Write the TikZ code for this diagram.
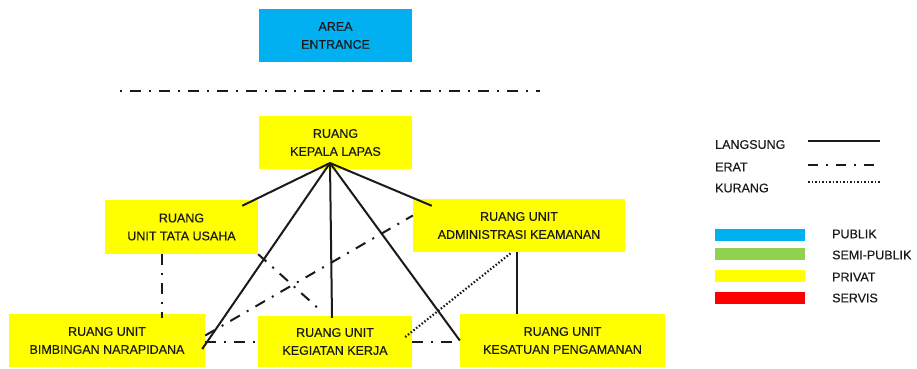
\documentclass[tikz,border=0pt]{standalone}
\usepackage{fontspec}
\setmainfont{Liberation Sans}[FakeBold=0.4]
\usetikzlibrary{calc}
\definecolor{publik}{HTML}{00B0F0}
\definecolor{semipublik}{HTML}{92D050}
\definecolor{privat}{HTML}{FFFF00}
\definecolor{servis}{HTML}{FF0000}
\definecolor{ink}{HTML}{1A1A1A}
\begin{document}
\begin{tikzpicture}[x=1pt,y=-1pt,
  room/.style={fill=#1,draw=none,inner sep=0pt,align=center,text=ink,
    font=\fontsize{12.5}{18}\selectfont},
  lbl/.style={anchor=west,inner sep=0pt,text=ink,font=\fontsize{12.5}{18}\selectfont},
  langsung/.style={draw=ink,line width=2pt},
  erat/.style={draw=ink,line width=2pt,dash pattern=on 11pt off 8pt on 2pt off 8pt},
  kurang/.style={draw=ink,line width=2.2pt,dash pattern=on 1.5pt off 2pt},
  bar/.style={fill=#1,draw=none,minimum width=90pt,minimum height=12pt,inner sep=0pt}]
\useasboundingbox (0,0) rectangle (917,368);

% zones
\node[room=publik,minimum width=153pt,minimum height=53pt] (entrance) at (335.5,35.5) {AREA\\ENTRANCE};
\node[room=privat,minimum width=153pt,minimum height=53pt] (kepala) at (335.5,142.5) {RUANG\\KEPALA LAPAS};
\node[room=privat,minimum width=153pt,minimum height=54pt] (tata) at (181.5,227) {RUANG\\UNIT TATA USAHA};
\node[room=privat,minimum width=212pt,minimum height=53pt] (admin) at (519,225.5) {RUANG UNIT\\ADMINISTRASI KEAMANAN};
\node[room=privat,minimum width=196pt,minimum height=53pt] (bimb) at (107,340.5) {RUANG UNIT\\BIMBINGAN NARAPIDANA};
\node[room=privat,minimum width=154pt,minimum height=51pt] (kegiatan) at (335,341.5) {RUANG UNIT\\KEGIATAN KERJA};
\node[room=privat,minimum width=205pt,minimum height=53pt] (kesatuan) at (562.5,340.5) {RUANG UNIT\\KESATUAN PENGAMANAN};

% separator between public entrance and private zone
\coordinate (sepL) at (120,91);
\coordinate (sepR) at (540,91);
\draw[erat,dash phase=19pt] (sepL) -- (sepR);

% relations
\coordinate (hub) at (330,163);
\draw[langsung] (hub) -- ($(tata.north east)+(-16,6)$);
\draw[langsung] (hub) -- ($(admin.north west)+(19,7)$);
\draw[langsung] (hub) -- ($(bimb.east)+(-3,8.5)$);
\draw[langsung] (hub) -- ($(kegiatan.north)+(-3,2)$);
\draw[langsung] (hub) -- (kesatuan.west);
\draw[langsung] ($(admin.south)+(-2,0)$) -- ($(kesatuan.north)+(-45.5,0)$);

\draw[erat] ($(tata.south)+(-19.5,0)$) -- ($(bimb.north)+(55,4)$);
\draw[erat] (tata.south east) -- ($(kegiatan.north)+(-13,-4)$);
\draw[erat] ($(bimb.east)+(0,-5)$) -- ($(admin.west)+(0,-10)$);
\draw[erat] ($(bimb.east)+(0,1.5)$) -- ($(kegiatan.west)+(2,0.5)$);
\draw[erat] ($(kegiatan.east)+(0,0.5)$) -- ($(kesatuan.west)+(0,1.5)$);

\draw[kurang] ($(kegiatan.east)+(-7,-4.5)$) -- ($(admin.south)+(-7,0)$);

% legend: relation types
\node[lbl] (lLangsung) at (715,144.5) {LANGSUNG};
\node[lbl] (lErat) at (715,167) {ERAT};
\node[lbl] (lKurang) at (715,188) {KURANG};
\coordinate (kLa) at (808,141); \coordinate (kLb) at (880,141);
\coordinate (kEa) at (808,165); \coordinate (kEb) at (880,165);
\coordinate (kKa) at (808,182); \coordinate (kKb) at (880,182);
\draw[langsung] (kLa) -- (kLb);
\draw[erat,dash pattern=on 10pt off 8pt on 2pt off 8pt] (kEa) -- (kEb);
\draw[kurang] (kKa) -- (kKb);

% legend: zone colours
\node[bar=publik] (bPublik) at (760,235) {};
\node[bar=semipublik] (bSemi) at (760,254) {};
\node[bar=privat] (bPrivat) at (760,276) {};
\node[bar=servis] (bServis) at (760,297.5) {};
\node[lbl] (tPublik) at (832,234) {PUBLIK};
\node[lbl] (tSemi) at (832,255) {SEMI-PUBLIK};
\node[lbl] (tPrivat) at (832,277) {PRIVAT};
\node[lbl] (tServis) at (832,298) {SERVIS};
\end{tikzpicture}
\end{document}
